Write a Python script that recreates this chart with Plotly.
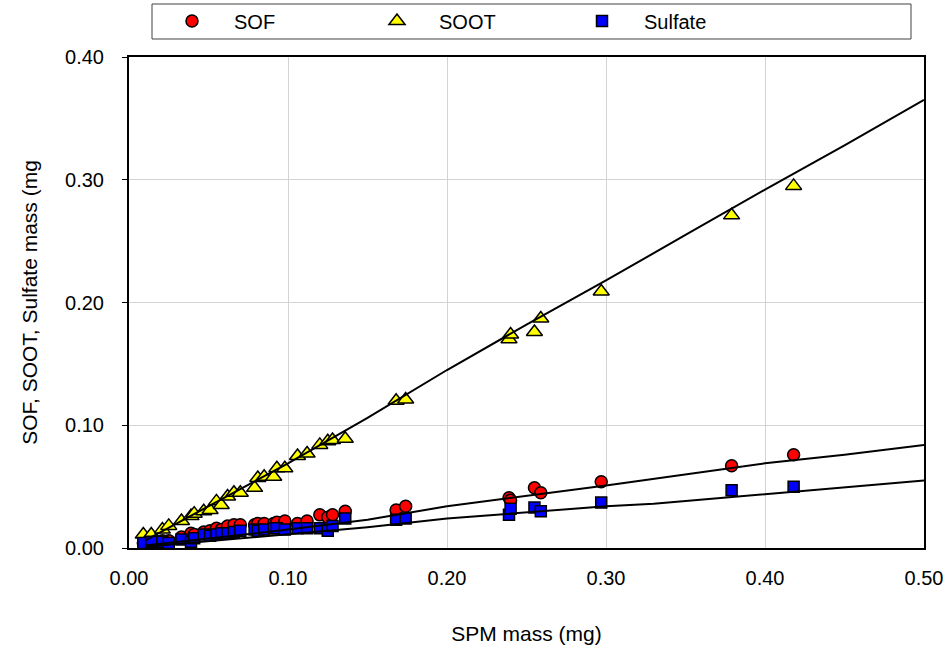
import plotly.graph_objects as go

# ---- data ----
spm = [0.009, 0.014, 0.021, 0.025, 0.033, 0.039, 0.041, 0.047, 0.051, 0.055,
       0.058, 0.062, 0.066, 0.070, 0.079, 0.081, 0.085, 0.091, 0.093, 0.098,
       0.106, 0.112, 0.120, 0.125, 0.128, 0.136, 0.168, 0.174, 0.239, 0.240,
       0.255, 0.259, 0.297, 0.379, 0.418]
soot = [0.011, 0.011, 0.015, 0.018, 0.022, 0.026, 0.028, 0.030, 0.031, 0.038,
        0.035, 0.042, 0.045, 0.045, 0.049, 0.057, 0.058, 0.058, 0.065, 0.065,
        0.075, 0.077, 0.084, 0.087, 0.088, 0.089, 0.120, 0.121, 0.170, 0.174,
        0.176, 0.187, 0.209, 0.271, 0.295]
sof = [0.004, 0.005, 0.006, 0.006, 0.009, 0.012, 0.011, 0.013, 0.014, 0.016,
       0.015, 0.018, 0.019, 0.019, 0.019, 0.020, 0.020, 0.020, 0.021, 0.022,
       0.020, 0.022, 0.027, 0.025, 0.027, 0.030, 0.031, 0.034, 0.041, 0.039,
       0.049, 0.045, 0.054, 0.067, 0.076]
sulfate = [0.004, 0.005, 0.005, 0.004, 0.007, 0.005, 0.008, 0.011, 0.010, 0.011,
           0.012, 0.012, 0.013, 0.014, 0.015, 0.014, 0.015, 0.016, 0.016, 0.015,
           0.016, 0.016, 0.016, 0.014, 0.018, 0.024, 0.023, 0.024, 0.027, 0.032,
           0.033, 0.030, 0.037, 0.047, 0.050]

# trend lines
soot_fit_x = [0.01, 0.05, 0.10, 0.15, 0.20, 0.25, 0.30, 0.35, 0.40, 0.45, 0.50]
soot_fit_y = [0.006, 0.034, 0.069, 0.106, 0.145, 0.182, 0.218, 0.255, 0.292, 0.328, 0.365]
sof_fit_x = [0.01, 0.10, 0.15, 0.20, 0.30, 0.40, 0.45, 0.50]
sof_fit_y = [0.002, 0.015, 0.023, 0.034, 0.051, 0.069, 0.076, 0.084]
sul_fit_x = [0.01, 0.10, 0.15, 0.20, 0.30, 0.33, 0.40, 0.50]
sul_fit_y = [0.001, 0.011, 0.017, 0.024, 0.034, 0.036, 0.044, 0.055]

x_ticks = [0.0, 0.1, 0.2, 0.3, 0.4, 0.5]
x_labels = ["0.00", "0.10", "0.20", "0.30", "0.40", "0.50"]
y_ticks = [0.0, 0.1, 0.2, 0.3, 0.4]
y_labels = ["0.00", "0.10", "0.20", "0.30", "0.40"]

FONT = "Liberation Sans, Arial, sans-serif"
W, H = 945, 647
L, R, T, B = 129, 21, 57, 99
PW, PH = W - L - R, H - T - B

fig = go.Figure()
fig.add_trace(go.Scatter(x=spm, y=sof, mode="markers", name="SOF",
                         marker=dict(symbol="circle", size=12, color="#ff0000",
                                     line=dict(color="black", width=1.5))))
fig.add_trace(go.Scatter(x=spm, y=soot, mode="markers", name="SOOT",
                         marker=dict(symbol="triangle-up", size=14, color="#ffff00",
                                     line=dict(color="black", width=1.5))))
fig.add_trace(go.Scatter(x=spm, y=sulfate, mode="markers", name="Sulfate",
                         marker=dict(symbol="square", size=11, color="#0000ff",
                                     line=dict(color="black", width=1.5))))
for fx, fy in [(soot_fit_x, soot_fit_y), (sof_fit_x, sof_fit_y), (sul_fit_x, sul_fit_y)]:
    fig.add_trace(go.Scatter(x=fx, y=fy, mode="lines", showlegend=False,
                             line=dict(color="black", width=2), hoverinfo="skip"))

# legend frame (pixels -> paper coords of the plot area)
fig.add_shape(type="rect", xref="paper", yref="paper",
              x0=(152 - L) / PW, x1=(911 - L) / PW,
              y0=(H - B - 39) / PH, y1=(H - B - 4) / PH,
              line=dict(color="#404040", width=1), fillcolor="white", layer="below")

fig.update_layout(
    width=W, height=H,
    margin=dict(l=L, r=R, t=T, b=B, autoexpand=False),
    paper_bgcolor="white", plot_bgcolor="white",
    font=dict(family=FONT, size=20, color="black"),
    legend=dict(orientation="h", xref="container", yref="container",
                x=150 / W, xanchor="left", y=1 - 21 / H, yanchor="middle",
                borderwidth=0, bgcolor="rgba(0,0,0,0)",
                entrywidth=116, entrywidthmode="pixels", itemwidth=74,
                font=dict(family=FONT, size=20)),
    xaxis=dict(range=[0, 0.5], tickvals=x_ticks, ticktext=x_labels, automargin=False,
               showgrid=True, gridcolor="#d3d3d3", gridwidth=1, zeroline=False,
               showline=True, linecolor="black", linewidth=2, mirror=True,
               ticks="", tickfont=dict(size=20), ticklabelstandoff=11,
               title=dict(text="SPM mass (mg)", font=dict(size=21), standoff=38)),
    yaxis=dict(range=[0, 0.4], tickvals=y_ticks, ticktext=y_labels, automargin=False,
               showgrid=True, gridcolor="#d3d3d3", gridwidth=1, zeroline=False,
               showline=True, linecolor="black", linewidth=2, mirror=True,
               ticks="outside", ticklen=5, tickcolor="black", tickfont=dict(size=20),
               ticklabelstandoff=14,
               title=dict(text="SOF, SOOT, Sulfate mass (mg", font=dict(size=21), standoff=22)),
)

fig.write_html("out.html")
